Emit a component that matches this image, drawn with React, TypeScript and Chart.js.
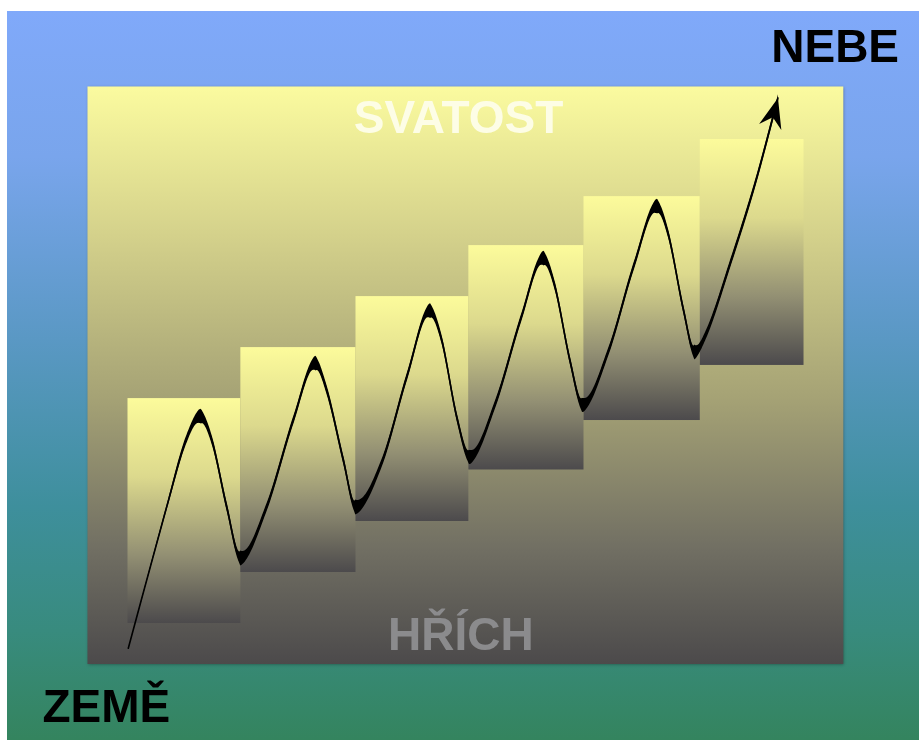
import React, { useEffect, useRef } from "react";
import { Chart, registerables } from "chart.js";

Chart.register(...registerables);

// Diagram coordinate system: x in "step" units (one step = 10), y in "level" units (one step rise = 10)
const X_RANGE = [-10.57, 69.43];
const Y_RANGE = [-22.94, 120];

// Panel (the big yellow-to-grey field)
const panelX = [-3.51, 62.79];
const panelY = [-8.04, 105.2];

// Six staircase blocks
const stepEdges = [0, 9.9, 20, 29.9, 40, 50.2, 59.3];
const stepBottoms = [0, 10, 20, 30.1, 39.8, 50.6];
const stepTops = [44.1, 54.1, 64.1, 74.1, 83.7, 94.9];

// The wavy rising path (peaks, troughs and points on the slopes)
const curveX = [
  0.07, 3.44, 5.13, 6.36, 7.39, 8.7, 9.91,
  12.21, 14.54, 16.45, 17.47, 18.93, 20.0,
  22.32, 24.52, 26.49, 27.54, 28.9, 30.0,
  32.28, 34.52, 36.45, 37.46, 38.82, 39.91,
  42.19, 44.43, 46.4, 47.41, 48.77, 49.74,
  50.75, 52.85, 55.04, 57.06,
];
const curveY = [
  -4.96, 22.8, 35.88, 40.59, 35.88, 22.8, 12.75,
  22.8, 39.8, 50.98, 45.69, 31.96, 22.75,
  31.57, 48.43, 61.27, 55.69, 40.2, 32.55,
  43.14, 59.8, 71.57, 66.27, 51.37, 42.75,
  53.33, 70.2, 81.76, 76.47, 61.37, 53.14,
  56.67, 70.39, 86.08, 102.94,
];

// Text labels
const labelTexts = ["NEBE", "SVATOST", "HŘÍCH", "ZEMĚ"];

export default function App() {
  const ref = useRef<HTMLCanvasElement>(null);

  useEffect(() => {
    const canvas = ref.current;
    if (!canvas) return;

    const backdrop = {
      id: "backdrop",
      beforeDatasetsDraw(chart: any) {
        const { ctx } = chart;
        const xs = chart.scales.x;
        const ys = chart.scales.y;
        const l = xs.getPixelForValue(panelX[0]);
        const r = xs.getPixelForValue(panelX[1]);
        const t = ys.getPixelForValue(panelY[1]);
        const b = ys.getPixelForValue(panelY[0]);
        ctx.save();
        const pg = ctx.createLinearGradient(0, t, 0, b);
        pg.addColorStop(0, "#fbfb9f");
        pg.addColorStop(0.27, "#d2cf8a");
        pg.addColorStop(0.54, "#a5a275");
        pg.addColorStop(0.8, "#716f63");
        pg.addColorStop(1, "#4c4a4b");
        ctx.shadowColor = "rgba(0,0,0,0.35)";
        ctx.shadowBlur = 3;
        ctx.shadowOffsetX = 1;
        ctx.shadowOffsetY = 1;
        ctx.fillStyle = pg;
        ctx.fillRect(l, t, r - l, b - t);
        ctx.restore();
        for (let i = 0; i < stepBottoms.length; i++) {
          const sl = xs.getPixelForValue(stepEdges[i]);
          const sr = xs.getPixelForValue(stepEdges[i + 1]);
          const st = ys.getPixelForValue(stepTops[i]);
          const sb = ys.getPixelForValue(stepBottoms[i]);
          const g = ctx.createLinearGradient(0, st, 0, sb);
          g.addColorStop(0, "#fcfb9b");
          g.addColorStop(0.35, "#dcd98d");
          g.addColorStop(0.7, "#928f73");
          g.addColorStop(1, "#4c4a4c");
          ctx.save();
          ctx.fillStyle = g;
          ctx.fillRect(sl, st, sr - sl, sb - st);
          ctx.restore();
        }
      },
    };

    const overlay = {
      id: "overlay",
      afterDatasetsDraw(chart: any) {
        const { ctx } = chart;
        const xs = chart.scales.x;
        const ys = chart.scales.y;
        const meta = chart.getDatasetMeta(0);
        const pts = meta.data;

        // sample the library's own bezier path and build a vertical-nib ribbon
        const samples: { x: number; y: number }[] = [];
        const N = 24;
        for (let i = 0; i < pts.length - 1; i++) {
          const p0 = pts[i];
          const p1 = pts[i + 1];
          const c1x = p0.cp2x ?? p0.x;
          const c1y = p0.cp2y ?? p0.y;
          const c2x = p1.cp1x ?? p1.x;
          const c2y = p1.cp1y ?? p1.y;
          for (let k = i === 0 ? 0 : 1; k <= N; k++) {
            const t = k / N;
            const mt = 1 - t;
            const x = mt * mt * mt * p0.x + 3 * mt * mt * t * c1x + 3 * mt * t * t * c2x + t * t * t * p1.x;
            const y = mt * mt * mt * p0.y + 3 * mt * mt * t * c1y + 3 * mt * t * t * c2y + t * t * t * p1.y;
            samples.push({ x, y });
          }
        }
        const n = samples.length;
        const hs = samples.map((s, j) => {
          const a = samples[Math.max(0, j - 1)];
          const b = samples[Math.min(n - 1, j + 1)];
          const dx = Math.abs(b.x - a.x) || 0.001;
          const slope = Math.abs(b.y - a.y) / dx;
          const falling = b.y > a.y ? 1.15 : 1;
          const taper = Math.min(1, j / (N * 1.5));
          return (7 * falling + 7 / (1 + (slope / 1.2) * (slope / 1.2))) * taper;
        });
        ctx.save();
        ctx.fillStyle = "#000";
        ctx.beginPath();
        samples.forEach((s, j) => {
          const y = s.y - hs[j] / 2;
          if (j === 0) ctx.moveTo(s.x, y);
          else ctx.lineTo(s.x, y);
        });
        for (let j = n - 1; j >= 0; j--) {
          ctx.lineTo(samples[j].x, samples[j].y + hs[j] / 2);
        }
        ctx.closePath();
        ctx.fill();
        ctx.restore();

        // arrowhead at the end of the path
        const tip = pts[pts.length - 1];
        const prev = pts[pts.length - 2];
        const ang = Math.atan2(tip.y - prev.y, tip.x - prev.x);
        const len = 30;
        const half = 11.5;
        const notch = 20;
        const cos = Math.cos(ang);
        const sin = Math.sin(ang);
        const bx = tip.x - cos * len;
        const by = tip.y - sin * len;
        ctx.save();
        ctx.fillStyle = "#000";
        ctx.beginPath();
        ctx.moveTo(tip.x, tip.y);
        ctx.lineTo(bx - sin * half, by + cos * half);
        ctx.lineTo(tip.x - cos * notch, tip.y - sin * notch);
        ctx.lineTo(bx + sin * half, by - cos * half);
        ctx.closePath();
        ctx.fill();
        ctx.restore();

        // labels
        const font = 'bold 46px "Liberation Sans", Arial, sans-serif';
        const specs = [
          { u: 67.68, v: 110, align: "right", color: "#000000" },
          { u: 29.04, v: 96.1, align: "center", color: "#fdfde6" },
          { u: 29.25, v: -5.29, align: "center", color: "#8b8b8d" },
          { u: -7.46, v: -19.4, align: "left", color: "#000000" },
        ];
        ctx.save();
        ctx.font = font;
        ctx.textBaseline = "alphabetic";
        labelTexts.forEach((txt, i) => {
          const s = specs[i];
          ctx.fillStyle = s.color;
          ctx.textAlign = s.align as CanvasTextAlign;
          ctx.fillText(txt, xs.getPixelForValue(s.u), ys.getPixelForValue(s.v));
        });
        ctx.restore();
      },
    };

    const chart = new Chart(canvas, {
      type: "line",
      data: {
        datasets: [
          {
            data: curveX.map((x, i) => ({ x, y: curveY[i] })),
            borderColor: "#000000",
            borderWidth: 1.6,
            pointRadius: 0,
            fill: false,
            cubicInterpolationMode: "monotone",
            borderCapStyle: "round",
            borderJoinStyle: "round",
            clip: false,
          } as any,
        ],
      },
      options: {
        responsive: false,
        animation: false,
        events: [],
        layout: { padding: 0 },
        scales: {
          x: { type: "linear", display: false, min: X_RANGE[0], max: X_RANGE[1] },
          y: { type: "linear", display: false, min: Y_RANGE[0], max: Y_RANGE[1] },
        },
        plugins: {
          legend: { display: false },
          tooltip: { enabled: false },
          title: { display: false },
        },
      },
      plugins: [backdrop, overlay],
    });

    return () => chart.destroy();
  }, []);

  return (
    <div
      style={{
        position: "absolute",
        left: 7,
        top: 11,
        width: 912,
        height: 729,
        background:
          "linear-gradient(to bottom, #80a9fa 0%, #79a5ec 20%, #5a98c4 45%, #3e8f9c 68%, #388b7e 85%, #34845e 100%)",
      }}
    >
      <canvas ref={ref} width={912} height={729} style={{ display: "block" }} />
    </div>
  );
}
